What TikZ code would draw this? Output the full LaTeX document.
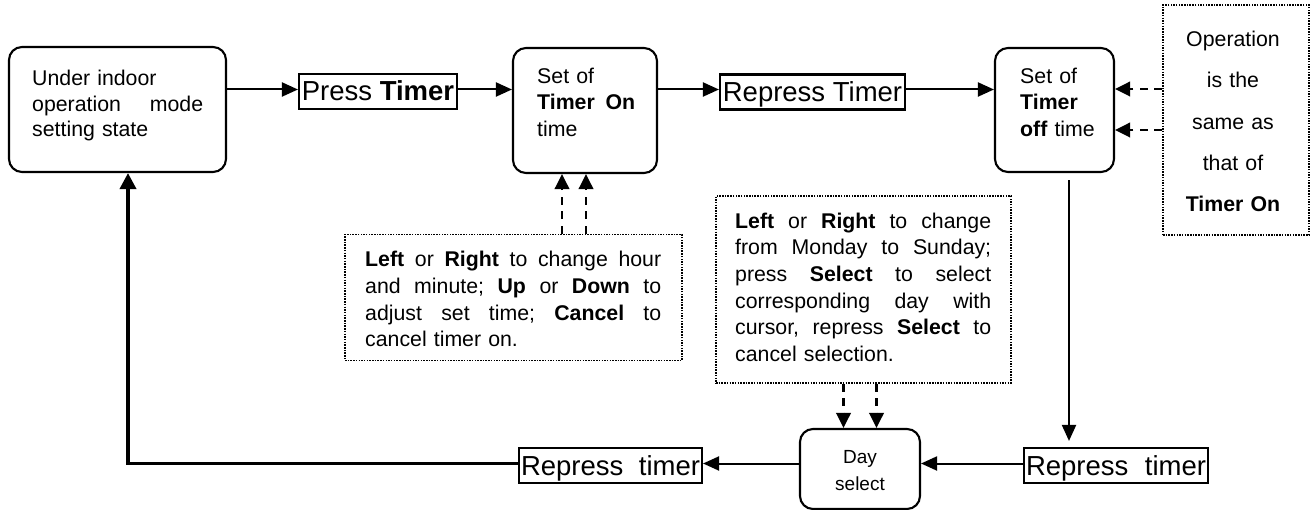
\documentclass[tikz,border=0pt]{standalone}
\usepackage{fontspec}
\setmainfont{Liberation Sans}
\usetikzlibrary{arrows.meta}
\tikzset{
  rbox/.style={draw, line width=2.1pt, rounded corners=13pt, inner sep=0pt},
  dbox/.style={draw, line width=1.5pt, dash pattern=on 1.5pt off 1.2pt, inner sep=0pt},
  fbox/.style={draw, line width=2.1pt, inner xsep=2pt, inner ysep=0pt,
    font=\fontsize{27.5}{30}\selectfont, text height=25pt, text depth=6pt, minimum height=35pt},
  txt/.style={inner sep=0pt, font=\fontsize{21.3}{26.67}\selectfont, align=left, anchor=base west},
  ctxt/.style={inner sep=0pt, align=center, anchor=base},
  arr/.style={line width=2pt, -{Triangle[length=16pt,width=14pt]}},
  darr/.style={line width=2.1pt, dash pattern=on 8pt off 6.5pt, -{Triangle[length=15pt,width=14.5pt]}},
  thickarr/.style={line width=3.6pt, -{Triangle[length=16pt,width=16pt]}}
}
\begin{document}
\begin{tikzpicture}[x=1pt,y=-1pt]
\useasboundingbox (0,0) rectangle (1312,510);

% boxes
\node[rbox, minimum width=217pt, minimum height=125pt] (A) at (117.5,109.5) {};
\node[rbox, minimum width=144pt, minimum height=125pt] (B) at (585,110.5) {};
\node[rbox, minimum width=119pt, minimum height=124pt] (C) at (1054.5,110) {};
\node[rbox, minimum width=120pt, minimum height=80pt] (DS) at (860,469) {};
\node[dbox, minimum width=146pt, minimum height=230pt] (D) at (1236,120) {};
\node[dbox, minimum width=337pt, minimum height=126pt] (E) at (513.5,297.5) {};
\node[dbox, minimum width=295pt, minimum height=187pt] (F) at (863.5,289.5) {};

\node[fbox, minimum width=158pt] (PT) at (378,91.5) {Press \textbf{Timer}};
\node[fbox, minimum width=185pt] (RT) at (812.5,92) {Repress Timer};
\node[fbox, text width=179pt] (RT2) at (610.5,465.5) {Repress \hfill timer};
\node[fbox, text width=180pt] (RT3) at (1116,465.5) {Repress \hfill timer};

% texts
\node[txt, text width=171pt, font=\fontsize{21.3}{25.5}\selectfont] (At) at (32,86)
  {Under indoor\\operation \hfill mode\\setting state};
\node[txt, text width=98pt] (Bt) at (537,83.3)
  {Set of\\\textbf{Timer \hfill On}\\time};
\node[txt, text width=90pt] (Ct) at (1020,83.3)
  {Set of\\\textbf{Timer}\\\textbf{off} time};
\node[ctxt, text width=140pt, font=\fontsize{21.3}{41.25}\selectfont] (Dt) at (1233,46.7)
  {Operation\\is the\\same as\\that of\\\textbf{Timer On}};
\node[txt, text width=296pt] (Et) at (365,266.7)
  {\textbf{Left} \hfill or \hfill \textbf{Right} \hfill to \hfill change \hfill hour\\
   and \hfill minute; \hfill \textbf{Up} \hfill or \hfill \textbf{Down} \hfill to\\
   adjust \hfill set \hfill time; \hfill \textbf{Cancel} \hfill to\\
   cancel timer on.};
\node[txt, text width=256pt] (Ft) at (735,228.3)
  {\textbf{Left} \hfill or \hfill \textbf{Right} \hfill to \hfill change\\
   from \hfill Monday \hfill to \hfill Sunday;\\
   press \hfill \textbf{Select} \hfill to \hfill select\\
   corresponding \hfill day \hfill with\\
   cursor, \hfill repress \hfill \textbf{Select} \hfill to\\
   cancel selection.};
\node[ctxt, text width=100pt, font=\fontsize{19}{27}\selectfont] (DSt) at (860,463)
  {Day\\select};

% helper coordinates
\coordinate (r1) at (0,89.5);
\coordinate (r2) at (0,463.5);
\coordinate (e1) at (562,0);
\coordinate (e2) at (586,0);
\coordinate (f1) at (843.5,0);
\coordinate (f2) at (876.5,0);
\coordinate (d1) at (0,89);
\coordinate (d2) at (0,130);
\coordinate (vc) at (1069,0);
\coordinate (vl) at (128,0);

% connectors
\draw[arr] (A.east |- r1) -- (PT.west |- r1);
\draw[arr] (PT.east |- r1) -- (B.west |- r1);
\draw[arr] (B.east |- r1) -- (RT.west |- r1);
\draw[arr] (RT.east |- r1) -- (C.west |- r1);
\draw[darr] (D.west |- d1) -- (C.east |- d1);
\draw[darr] (D.west |- d2) -- (C.east |- d2);
\draw[darr] (E.north -| e1) -- (B.south -| e1);
\draw[darr] (E.north -| e2) -- (B.south -| e2);
\draw[darr] (F.south -| f1) -- (DS.north -| f1);
\draw[darr] (F.south -| f2) -- (DS.north -| f2);
\draw[arr, shorten <=7pt, shorten >=6pt] (C.south -| vc) -- (RT3.north -| vc);
\draw[arr] (RT3.west |- r2) -- (DS.east |- r2);
\draw[arr] (DS.west |- r2) -- (RT2.east |- r2);
\draw[thickarr] (RT2.west |- r2) -- (vl |- r2) -- (A.south -| vl);
\end{tikzpicture}
\end{document}
